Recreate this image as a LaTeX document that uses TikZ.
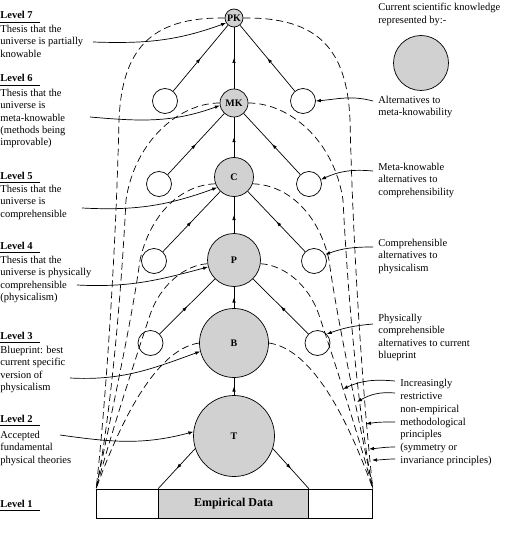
\documentclass[tikz,border=0pt]{standalone}
\usepackage{fontspec}
\setmainfont{Liberation Serif}
\usetikzlibrary{arrows.meta, decorations.markings}
\definecolor{knowledgeColor}{RGB}{209,209,209}
\tikzstyle{diagram} = [x = 1pt, y = -1pt, line width = .7pt, >={Latex[length=5pt, width=3.6pt]}]
\tikzstyle{knowledgeCircle} = [circle, draw, fill=knowledgeColor, inner sep=0pt, font=\bfseries\fontsize{10}{10}\selectfont]
\tikzstyle{altCircle} = [circle, draw, fill=white, inner sep=0pt, minimum size=25pt]
\tikzstyle{midArrow} = [postaction={decorate}, decoration={markings, mark=at position .5 with {\arrow{>}}}]
\tikzstyle{principleLine} = [dash pattern=on 7pt off 4pt]
\tikzstyle{pointer} = [->]
\tikzstyle{noteText} = [anchor=north west, inner sep=0pt, align=left, font=\fontsize{10.5}{12.3}\selectfont]
\tikzstyle{levelTitle} = [anchor=base west, inner sep=0pt, font=\bfseries\fontsize{10.5}{12}\selectfont]
\newcommand{\levelHeading}[2]{\node [levelTitle] (level#1) at (0,#2) {Level #1}; \draw (0,#2+3.5) -- +(40,0);}
\newcommand{\principleCurves}[4]{
  \draw [principleLine] (#1.#2) .. #4 .. (base.north west);
  \begin{scope}[xshift=469pt, xscale=-1]
    \draw [principleLine] (#1.#3) .. #4 .. (base.north east);
  \end{scope}
}

\begin{document}
\begin{tikzpicture}[diagram]
  \useasboundingbox (0,0) rectangle (510,545);

  % empirical basis
  \node [draw, minimum width=276pt, minimum height=29pt, inner sep=0pt] (base) at (234.5,503.5) {};
  \node [draw, fill=knowledgeColor, minimum width=150pt, minimum height=29pt, inner sep=0pt, font=\bfseries\fontsize{12}{12}\selectfont] (data) at (233.5,503.5) {Empirical Data};

  % current scientific knowledge
  \node [knowledgeCircle, minimum size=81pt] (T) at (234,436) {T};
  \node [knowledgeCircle, minimum size=69pt] (B) at (234,343) {B};
  \node [knowledgeCircle, minimum size=53pt] (P) at (234,260) {P};
  \node [knowledgeCircle, minimum size=39pt] (C) at (234,177) {C};
  \node [knowledgeCircle, minimum size=28pt] (MK) at (234,103) {MK};
  \node [knowledgeCircle, minimum size=18pt] (PK) at (234,18) {PK};

  \foreach \from/\to in {T/B, B/P, P/C, C/MK, MK/PK}
    \draw [midArrow] (\from) -- (\to);
  \draw [midArrow] (T.198) -- (data.north west);
  \draw [midArrow] (T.-18) -- (data.north east);

  % alternatives
  \foreach \lvl/\off/\yy/\above in {Three/83.5/343/P, Four/80/261/C, Five/75/184/MK, Six/69/101/PK} {
    \node [altCircle] (leftAlt\lvl) at (234-\off,\yy) {};
    \node [altCircle] (rightAlt\lvl) at (234+\off,\yy) {};
    \draw [midArrow] (leftAlt\lvl) -- (\above);
    \draw [midArrow] (rightAlt\lvl) -- (\above);
  }

  % non-empirical principles
  \principleCurves{PK}{west}{east}{controls (150,17) and (122,50) .. (119,120) .. controls (116,250) and (106,400)}
  \principleCurves{MK}{west}{east}{controls (180,103) and (135,140) .. (126,200) .. controls (121,300) and (110,420)}
  \principleCurves{C}{200}{-20}{controls (180,185) and (150,215) .. (140,260) .. controls (132,320) and (110,420)}
  \principleCurves{P}{188}{-8}{controls (185,265) and (160,285) .. (150,315) .. controls (140,345) and (112,430)}
  \principleCurves{B}{west}{east}{controls (165,348) and (130,395)}

  % levels
  \levelHeading{7}{19}
  \node [noteText] (thesisSeven) at (0,25) {Thesis that the\\universe is partially\\knowable};
  \levelHeading{6}{82}
  \node [noteText] (thesisSix) at (0,89) {Thesis that the\\universe is\\meta-knowable\\(methods being\\improvable)};
  \levelHeading{5}{179}
  \node [noteText] (thesisFive) at (0,185) {Thesis that the\\universe is\\comprehensible};
  \levelHeading{4}{249}
  \node [noteText] (thesisFour) at (0,256) {Thesis that the\\universe is physically\\comprehensible\\(physicalism)};
  \levelHeading{3}{339}
  \node [noteText] (thesisThree) at (0,346) {Blueprint: best\\current specific\\version of\\physicalism};
  \levelHeading{2}{422}
  \node [noteText] (thesisTwo) at (0,431) {Accepted\\fundamental\\physical theories};
  \levelHeading{1}{507}

  \coordinate (fromSeven) at (93,42);
  \coordinate (fromSix) at (90,117);
  \coordinate (fromFive) at (82,208);
  \coordinate (fromFour) at (77,285);
  \coordinate (fromThree) at (70,378);
  \coordinate (fromTwo) at (60,435);
  \draw [pointer] (fromSeven) to [out=-2, in=200] (PK.212);
  \draw [pointer] (fromSix) to [out=-5, in=200] (MK.190);
  \draw [pointer] (fromFive) to [out=-3, in=200] (C.212);
  \draw [pointer] (fromFour) to [out=-3, in=195] (P.195);
  \draw [pointer] (fromThree) to [out=-3, in=200] (B.194);
  \draw [pointer] (fromTwo) to [out=-8, in=195] (T.174);

  % legend and alternatives
  \node [noteText] (legendText) at (378,3) {Current scientific knowledge\\represented by:-};
  \node [knowledgeCircle, minimum size=55pt] (legendCircle) at (421,63) {};
  \node [noteText] (altSixText) at (378,96) {Alternatives to\\meta-knowability};
  \node [noteText] (altFiveText) at (378,163) {Meta-knowable\\alternatives to\\comprehensibility};
  \node [noteText] (altFourText) at (378,239) {Comprehensible\\alternatives to\\physicalism};
  \node [noteText] (altThreeText) at (378,314) {Physically\\comprehensible\\alternatives to current\\blueprint};
  \node [noteText, font=\fontsize{10.5}{12.8}\selectfont] (principleText) at (400,379) {Increasingly\\restrictive\\non-empirical\\methodological\\principles\\(symmetry or\\invariance principles)};

  \coordinate (altFromSix) at (373,101);
  \coordinate (altFromFive) at (373,171);
  \coordinate (altFromFour) at (373,247);
  \coordinate (altFromThree) at (373,324);
  \draw [pointer] (altFromSix) to [out=165, in=5] (rightAltSix.0);
  \draw [pointer] (altFromFive) to [out=175, in=25] (rightAltFive.20);
  \draw [pointer] (altFromFour) to [out=180, in=20] (rightAltFour.30);
  \draw [pointer] (altFromThree) to [out=185, in=20] (rightAltThree.44);

  \coordinate (ruleFromOne) at (395,381);
  \coordinate (ruleFromTwo) at (395,393);
  \coordinate (ruleFromThree) at (395,422);
  \coordinate (ruleFromFour) at (395,447);
  \coordinate (ruleFromFive) at (395,459);
  \coordinate (ruleAtOne) at (343,389);
  \coordinate (ruleAtTwo) at (357,402);
  \coordinate (ruleAtThree) at (366,424);
  \coordinate (ruleAtFour) at (369,449);
  \coordinate (ruleAtFive) at (372,460);
  \draw [pointer] (ruleFromOne) to [out=175, in=25] (ruleAtOne);
  \draw [pointer] (ruleFromTwo) to [out=175, in=30] (ruleAtTwo);
  \draw [pointer] (ruleFromThree) to [out=180, in=10] (ruleAtThree);
  \draw [pointer] (ruleFromFour) to [out=180, in=5] (ruleAtFour);
  \draw [pointer] (ruleFromFive) to [out=180, in=0] (ruleAtFive);
\end{tikzpicture}
\end{document}
